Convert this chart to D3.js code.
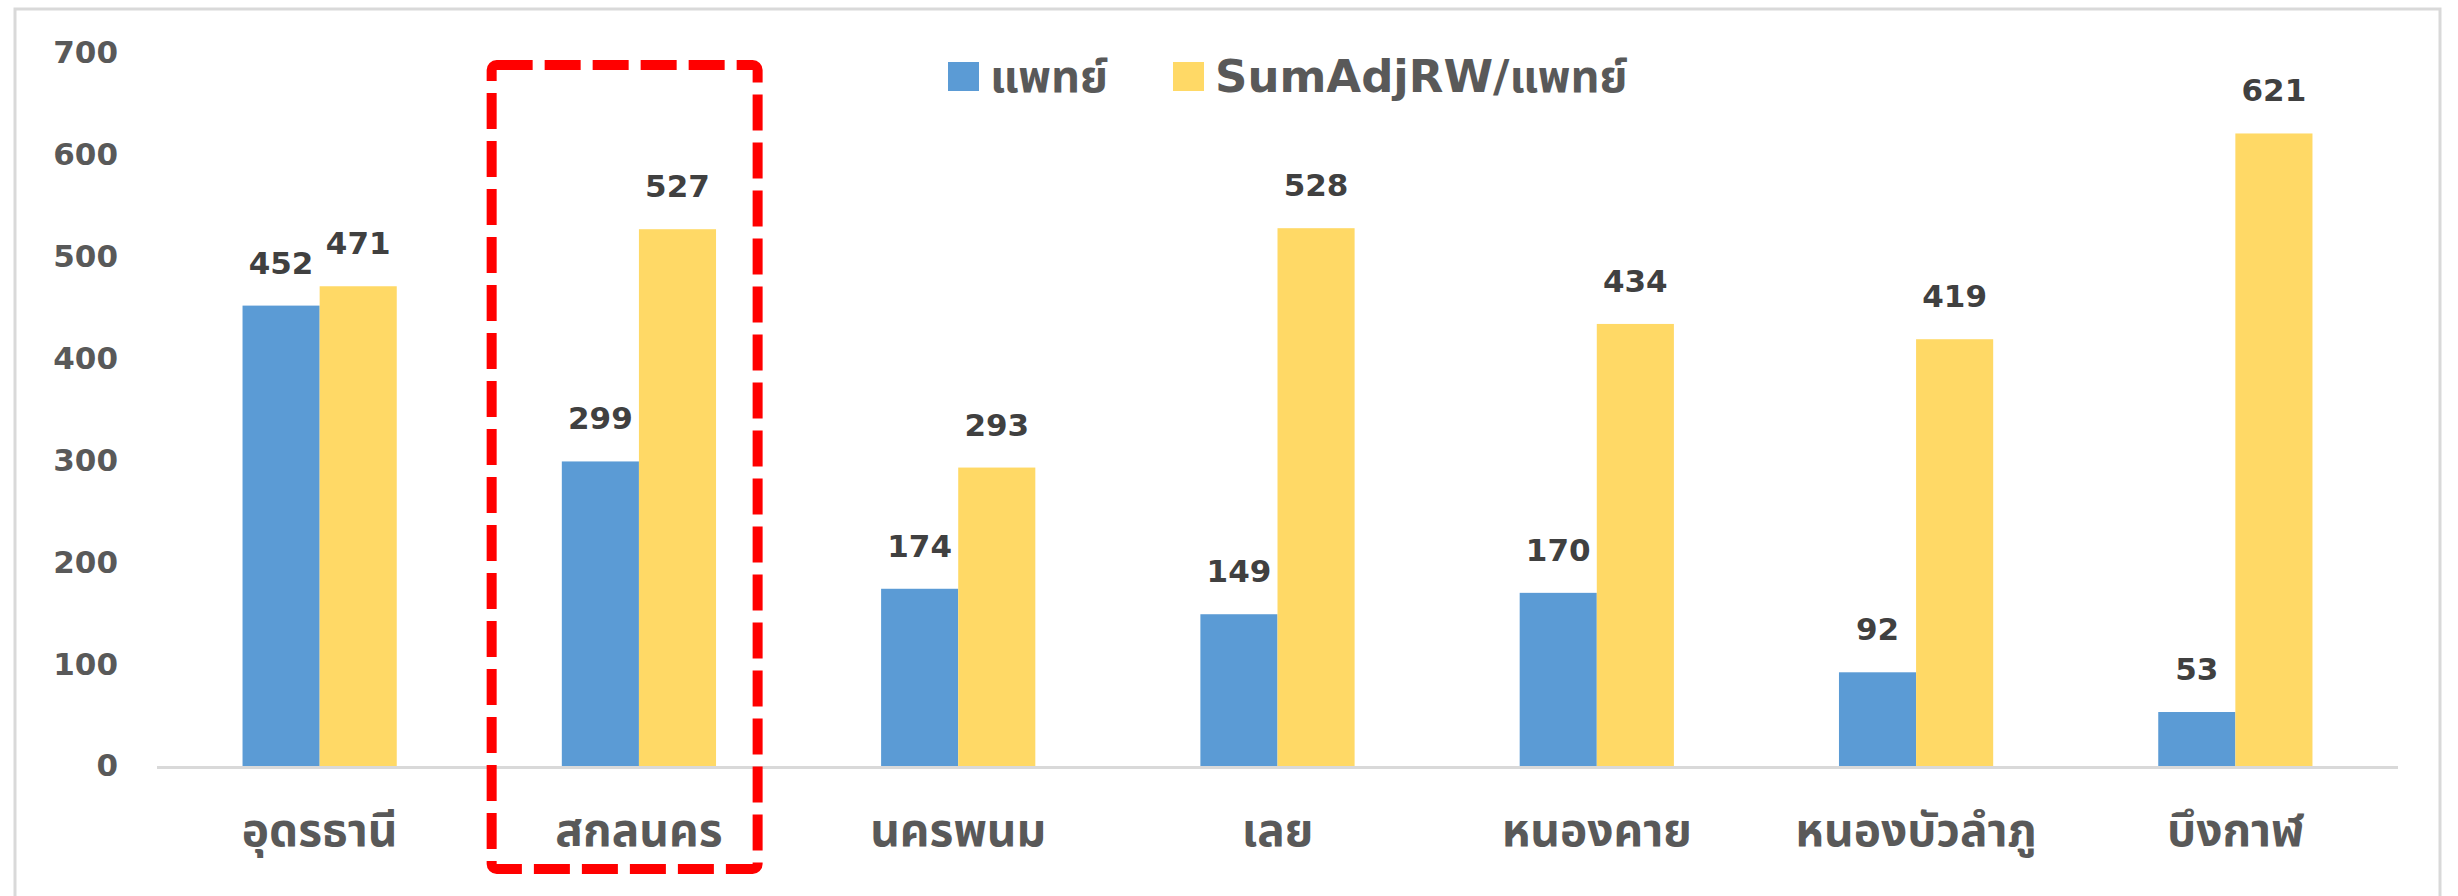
<!DOCTYPE html>
<html>
<head>
<meta charset="utf-8">
<script src="https://cdn.jsdelivr.net/npm/d3@7"></script>
<style>
  html, body { margin: 0; padding: 0; background: #fff; }
  svg text { font-family: "DejaVu Sans", "Noto Sans Thai", "Noto Sans", sans-serif; }
</style>
</head>
<body>
<div id="chart"></div>
<script>
// data
const provinces = ["อุดรธานี", "สกลนคร", "นครพนม", "เลย", "หนองคาย", "หนองบัวลำภู", "บึงกาฬ"];
const seriesNames = ["แพทย์", "SumAdjRW/แพทย์"];
const doctors = [452, 299, 174, 149, 170, 92, 53];
const adjRwPerDoctor = [471, 527, 293, 528, 434, 419, 621];
const yTicks = [0, 100, 200, 300, 400, 500, 600, 700];
const highlighted = "สกลนคร";

const colors = ["#5b9bd5", "#ffd966"];

var width = 2458, height = 896;

var svg = d3.select("#chart")
  .append("svg")
    .attr("width", width)
    .attr("height", height);

// outer frame (bottom edge runs off the picture)
svg.append("rect")
  .attr("x", 15).attr("y", 9)
  .attr("width", 2425).attr("height", 1000)
  .attr("fill", "#fff")
  .attr("stroke", "#d9d9d9")
  .attr("stroke-width", 3);

var x0 = d3.scaleBand()
  .domain(provinces)
  .range([160, 2395])
  .paddingInner(0.517)
  .paddingOuter(0.2585);

var x1 = d3.scaleBand()
  .domain(seriesNames)
  .range([0, x0.bandwidth()]);

var y = d3.scaleLinear()
  .domain([0, 700])
  .range([766, 53]);

// y axis labels only, no line / ticks
var yAxis = svg.append("g")
  .attr("transform", "translate(118,0)")
  .call(d3.axisLeft(y).tickValues(yTicks).tickSize(0).tickPadding(0));
yAxis.select(".domain").remove();
yAxis.selectAll("text")
  .attr("fill", "#595959")
  .style("font-size", "31px")
  .style("font-weight", "bold");

// bars
var rows = provinces.map((p, i) => ({ province: p, values: [doctors[i], adjRwPerDoctor[i]] }));

var groups = svg.selectAll("g.cat")
  .data(rows)
  .enter()
  .append("g")
  .attr("class", "cat")
  .attr("transform", d => "translate(" + x0(d.province) + ",0)");

groups.selectAll("rect")
  .data(d => d.values.map((v, k) => ({ key: seriesNames[k], value: v, k: k })))
  .enter()
  .append("rect")
  .attr("x", d => x1(d.key))
  .attr("y", d => y(d.value))
  .attr("width", x1.bandwidth())
  .attr("height", d => y(0) - y(d.value))
  .attr("fill", d => colors[d.k]);

groups.selectAll("text.val")
  .data(d => d.values.map((v, k) => ({ key: seriesNames[k], value: v })))
  .enter()
  .append("text")
  .attr("class", "val")
  .attr("x", d => x1(d.key) + x1.bandwidth() / 2)
  .attr("y", d => y(d.value) - 32)
  .attr("text-anchor", "middle")
  .attr("fill", "#404040")
  .style("font-size", "31px")
  .style("font-weight", "bold")
  .text(d => d.value);

// baseline
svg.append("line")
  .attr("x1", x0.range()[0] - 3).attr("x2", x0.range()[1] + 3)
  .attr("y1", y(0) + 1.5).attr("y2", y(0) + 1.5)
  .attr("stroke", "#d9d9d9")
  .attr("stroke-width", 3);

// category labels
var xAxis = svg.append("g")
  .attr("transform", "translate(0," + y(0) + ")")
  .call(d3.axisBottom(x0).tickSize(0).tickPadding(0));
xAxis.select(".domain").remove();
xAxis.selectAll("text")
  .attr("dy", null)
  .attr("y", 80)
  .attr("fill", "#595959")
  .style("font-size", "46px")
  .style("font-weight", "bold");

// red dashed box around the highlighted province
var step = x0.step();
var hx = x0(highlighted) - x0.bandwidth() * 0.455;
svg.append("rect")
  .attr("x", hx)
  .attr("y", 65)
  .attr("width", step * 0.833)
  .attr("height", 804)
  .attr("rx", 5)
  .attr("fill", "none")
  .attr("stroke", "#ff0000")
  .attr("stroke-width", 10)
  .attr("stroke-dasharray", "36,12");

// legend
var legend = svg.append("g").attr("transform", "translate(948,60)");
var lx = [0, 225];
seriesNames.forEach((name, i) => {
  legend.append("rect")
    .attr("x", lx[i]).attr("y", 2)
    .attr("width", 31).attr("height", 29)
    .attr("fill", colors[i]);
  legend.append("text")
    .attr("x", lx[i] + 42).attr("y", 16)
    .attr("dy", "0.35em")
    .attr("fill", "#595959")
    .style("font-size", "45px")
    .style("font-weight", "bold")
    .text(name);
});
</script>
</body>
</html>
